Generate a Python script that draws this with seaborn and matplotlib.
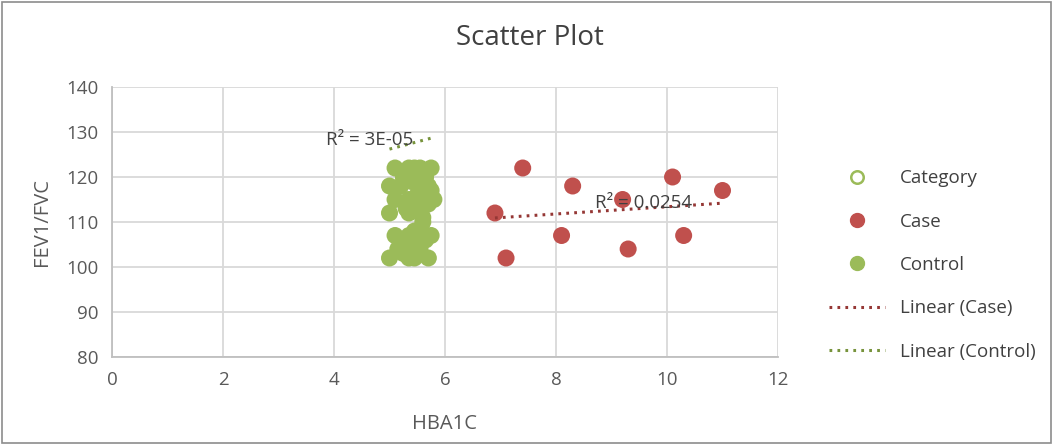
import numpy as np
import pandas as pd
import matplotlib
matplotlib.use("Agg")
import matplotlib.pyplot as plt
import seaborn as sns
from matplotlib.lines import Line2D

# ---- data ----
case_x = [6.9, 7.4, 7.1, 8.3, 8.1, 9.2, 9.3, 10.1, 10.3, 11.0]
case_y = [112, 122, 102, 118, 107, 115, 104, 120, 107, 117]

control_x = [5.1, 5.35, 5.45, 5.55, 5.75,
             5.0, 5.2, 5.7,
             5.25, 5.65,
             5.1, 5.35, 5.8,
             5.55, 5.75,
             5.0, 5.35,
             5.55, 5.7, 5.6,
             5.1, 5.35, 5.55, 5.75,
             5.2, 5.45,
             5.15, 5.55,
             5.0, 5.35, 5.45, 5.7,
             5.4, 5.5, 5.3, 5.6, 5.45, 5.65, 5.25, 5.5]
control_y = [122, 122, 122, 122, 122,
             118, 118, 118,
             120, 120,
             115, 115, 115,
             117, 117,
             112, 112,
             114, 114, 111,
             107, 107, 107, 107,
             105, 105,
             104, 104,
             102, 102, 102, 102,
             119, 116, 113, 110, 108, 106, 103, 121]

# control trendline as drawn in the reference
control_trend_x = [5.0, 5.77]
control_trend_y = [126.2, 128.7]

case_r2_label = "R² = 0.0254"
control_r2_label = "R² = 3E-05"

x_ticks = [0, 2, 4, 6, 8, 10, 12]
y_ticks = [80, 90, 100, 110, 120, 130, 140]

case_color = "#c0504d"
control_color = "#9bbb59"
case_line_color = "#953735"
control_line_color = "#77933c"

df = pd.DataFrame({
    "HBA1C": case_x + control_x,
    "FEV1/FVC": case_y + control_y,
    "Category": ["Case"] * len(case_x) + ["Control"] * len(control_x),
})

sns.set_theme(style="white")
plt.rcParams['font.family'] = ['Open Sans', 'DejaVu Sans']

fig = plt.figure(figsize=(10.53, 4.45), dpi=100)
ax = fig.add_axes([112 / 1053, 1 - 357 / 445, (778 - 112) / 1053, (357 - 87) / 445])

sns.scatterplot(data=df, x="HBA1C", y="FEV1/FVC", hue="Category",
                palette={"Case": case_color, "Control": control_color},
                s=150, edgecolor="none", alpha=1.0, legend=False, ax=ax, zorder=3)

dot = (0, (0.9, 1.7))
# case linear trendline
coef = np.polyfit(case_x, case_y, 1)
xx = np.array([min(case_x), max(case_x)])
ax.plot(xx, np.polyval(coef, xx), linestyle=dot, color=case_line_color,
        lw=2.2, zorder=4)
ax.plot(control_trend_x, control_trend_y, linestyle=dot,
        color=control_line_color, lw=2.2, zorder=4)

ax.text(9.57, 114.3, case_r2_label, ha="center", va="center", fontsize=13.5,
        color="#404040", zorder=5)
ax.text(4.65, 128.2, control_r2_label, ha="center", va="center", fontsize=13.5,
        color="#404040", zorder=5)

ax.set_xlim(0, 12)
ax.set_ylim(80, 140)
ax.set_xticks(x_ticks)
ax.set_yticks(y_ticks)
ax.grid(True, color="#d9d9d9", lw=1.3)
ax.set_axisbelow(True)
for s in ["top", "right"]:
    ax.spines[s].set_visible(False)
for s in ["left", "bottom"]:
    ax.spines[s].set_color("#bfbfbf")
    ax.spines[s].set_linewidth(1.3)
ax.tick_params(axis="both", length=0, labelsize=13.5, labelcolor="#595959", pad=10)
ax.set_xlabel("HBA1C", fontsize=14.5, color="#595959", labelpad=18)
ax.set_ylabel("FEV1/FVC", fontsize=14.5, color="#595959", labelpad=10)

fig.text(530 / 1053, 1 - 38 / 445, "Scatter Plot", ha="center", va="center",
         fontsize=20, color="#404040")

handles = [
    Line2D([], [], marker="o", ls="none", markerfacecolor="white",
           markeredgecolor=control_color, markeredgewidth=1.8, markersize=9),
    Line2D([], [], marker="o", ls="none", color=case_color, markersize=10),
    Line2D([], [], marker="o", ls="none", color=control_color, markersize=10),
    Line2D([], [], ls=dot, color=case_line_color, lw=2.2),
    Line2D([], [], ls=dot, color=control_line_color, lw=2.2),
]
labels = ["Category", "Case", "Control", "Linear (Case)", "Linear (Control)"]
fig.legend(handles, labels, loc="center left", bbox_to_anchor=(812 / 1053, 1 - 265 / 445),
           frameon=False, fontsize=13.5, labelcolor="#404040", handlelength=3.0,
           labelspacing=1.35, handletextpad=0.8)

border = plt.Rectangle((0.002, 0.004), 0.996, 0.992, transform=fig.transFigure,
                       fill=False, edgecolor="#8c8c8c", lw=1.2)
fig.patches.append(border)

fig.savefig("out.png", dpi=100)
